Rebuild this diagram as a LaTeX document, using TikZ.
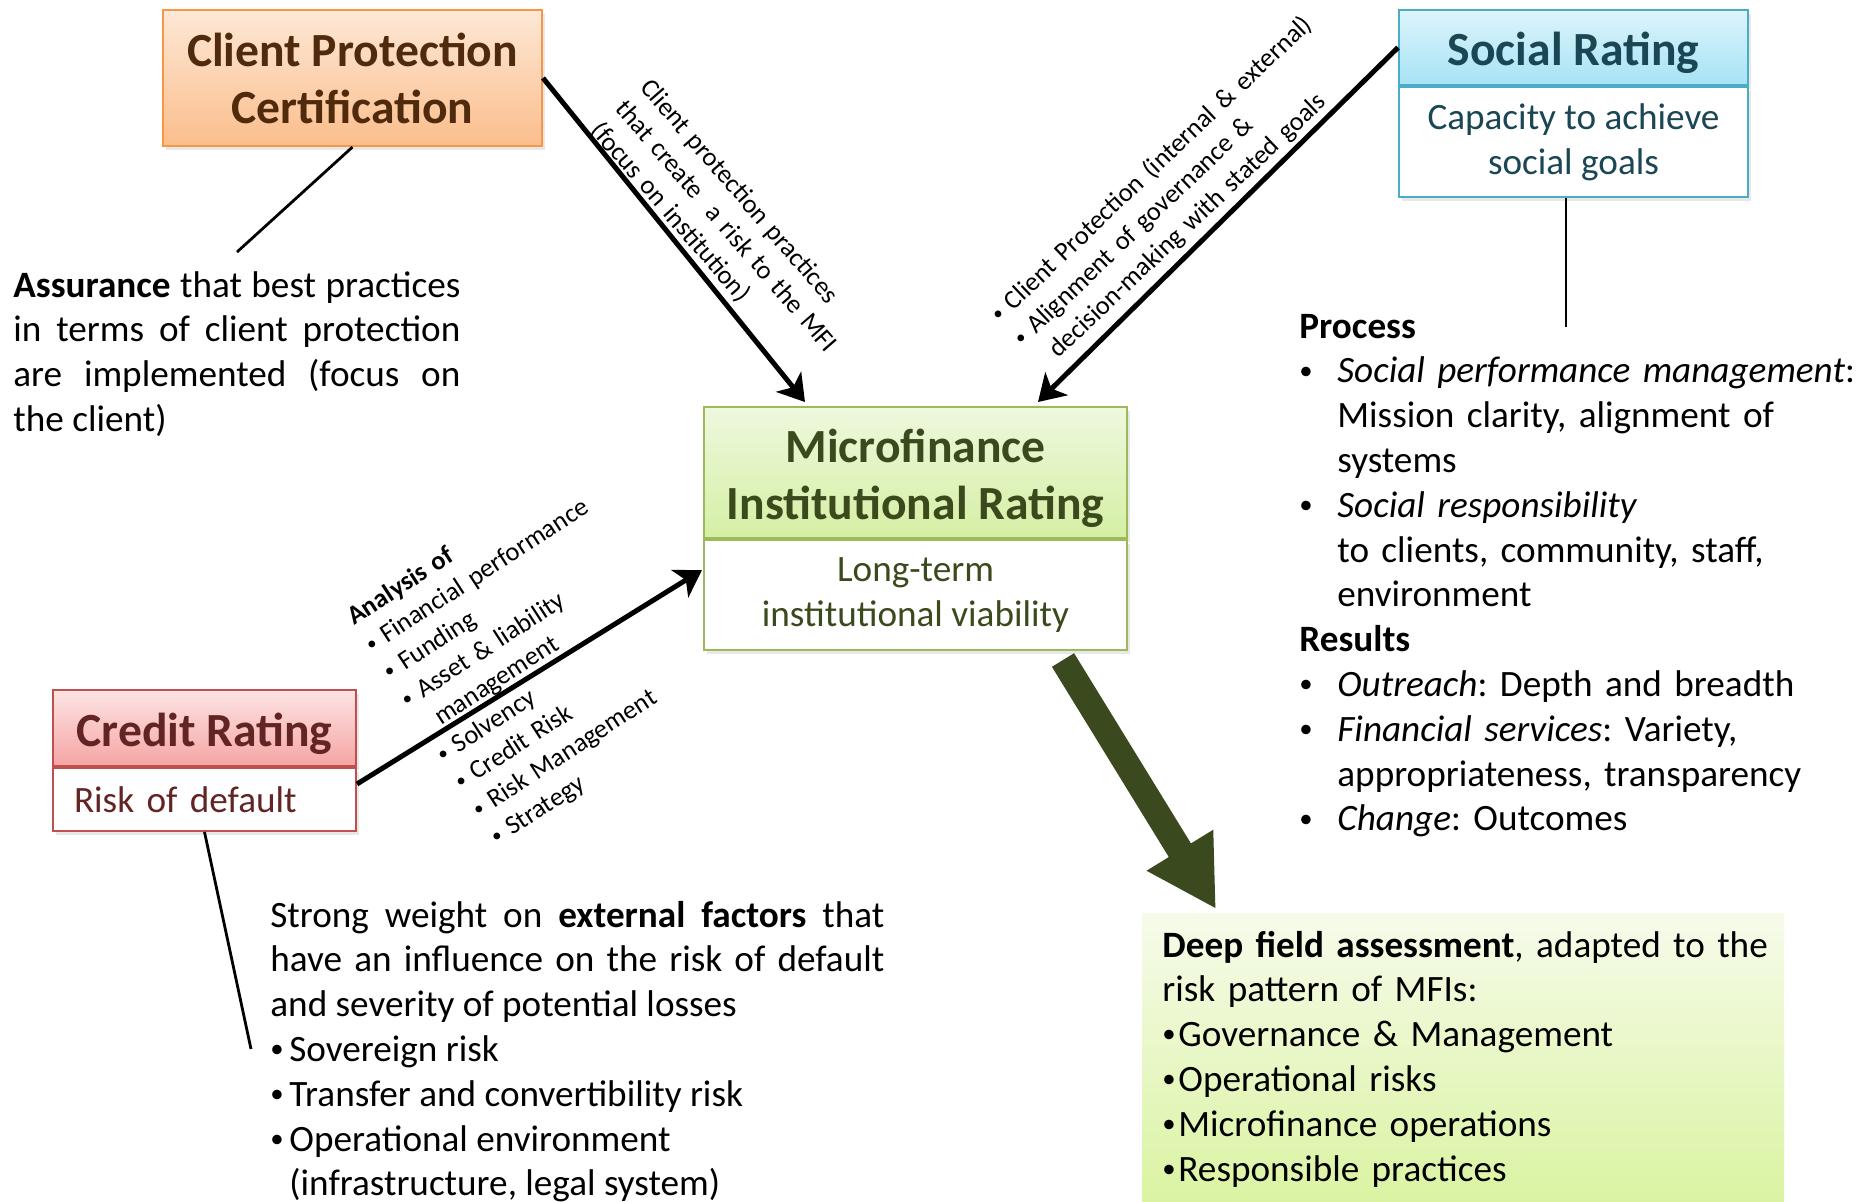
\documentclass[tikz,border=0pt]{standalone}
\usepackage{fontspec}
\usepackage{graphicx}
\setmainfont{Carlito}
\usetikzlibrary{arrows.meta,positioning,calc,shadows}

\definecolor{cpcedge}{HTML}{F79646}
\definecolor{cpctop}{HTML}{FDE8D6}
\definecolor{cpcbot}{HTML}{FBBE8C}
\definecolor{cpctext}{HTML}{4F2A0C}
\definecolor{sredge}{HTML}{4BACC6}
\definecolor{srtop}{HTML}{DDF4FB}
\definecolor{srbot}{HTML}{A6E3F5}
\definecolor{srtext}{HTML}{1B4654}
\definecolor{miredge}{HTML}{9BBB59}
\definecolor{mirtop}{HTML}{EEF8DE}
\definecolor{mirbot}{HTML}{D5EFA4}
\definecolor{mirtext}{HTML}{3B4A1C}
\definecolor{credge}{HTML}{C0504D}
\definecolor{crtop}{HTML}{FDE4E4}
\definecolor{crbot}{HTML}{F5A5A4}
\definecolor{crtext}{HTML}{632523}
\definecolor{deeptop}{HTML}{F6FBEA}
\definecolor{deepbot}{HTML}{D9F39F}
\definecolor{bigolive}{HTML}{3A4A1E}

\frenchspacing
\newcommand\bodysize{\fontsize{18.6}{22.4}\selectfont}
\newcommand\titlesize{\fontsize{23.8}{28.5}\selectfont}
\newcommand\notesize{\fontsize{13.2}{16.4}\selectfont}
\newcommand\dotmark{\raisebox{0.1em}{\scalebox{0.72}{\textbullet}}}
\newcommand\bul[1][19pt]{\makebox[#1][l]{\dotmark}}
\newcommand\sink[1]{\raisebox{-2.7pt}[\height][\depth]{#1}}

\begin{document}
\begin{tikzpicture}[x=0.5pt,y=-0.5pt,>={Stealth[length=13pt,width=16pt,inset=3.5pt]}]
    \tikzstyle{box}=[draw,line width=1pt,inner sep=0pt,drop shadow={opacity=0.18,shadow xshift=1.5pt,shadow yshift=-2pt}]
    \tikzstyle{head}=[box,font=\titlesize\bfseries,align=center]
    \tikzstyle{body}=[box,fill=white,font=\bodysize,align=center]
    \tikzstyle{note}=[inner sep=0pt,font=\bodysize,anchor=base west]
    \tikzstyle{tag}=[inner sep=0pt,font=\notesize,align=left,anchor=base west]
    \tikzstyle{link}=[line width=1.4pt]
    \tikzstyle{feed}=[->,line width=2.5pt]
    \useasboundingbox (0,0) rectangle (1859,1201);
    \fill[white] (0,0) rectangle (1859,1201);

    % rating boxes
    \node[head,top color=cpctop,bottom color=cpcbot,draw=cpcedge,text=cpctext,minimum width=189.5pt,minimum height=68pt] (cpc) at (352.5,78) {Client Protection\\Certification};
    \node[head,top color=srtop,bottom color=srbot,draw=sredge,text=srtext,minimum width=174.5pt,minimum height=37.5pt] (srhead) at (1573.5,47.5) {\sink{Social Rating}};
    \node[body,draw=sredge,text=srtext,minimum width=174.5pt,minimum height=55pt] (srbody) [below=0pt of srhead] {Capacity to achieve\\social goals};
    \node[head,top color=mirtop,bottom color=mirbot,draw=miredge,text=mirtext,minimum width=211.5pt,minimum height=65.5pt] (mirhead) at (915.5,472.5) {\sink{Microfinance}\\\sink{Institutional Rating}};
    \node[body,draw=miredge,text=mirtext,minimum width=211.5pt,minimum height=55pt] (mirbody) [below=0pt of mirhead] {Long-term\\institutional viability};
    \node[head,top color=crtop,bottom color=crbot,draw=credge,text=crtext,minimum width=151.5pt,minimum height=38pt] (crhead) at (204.5,728) {\sink{Credit Rating}};
    \node[body,draw=credge,text=crtext,minimum height=31.5pt,align=left,text width=130.5pt,inner xsep=10.5pt] (crbody) [below=0pt of crhead] {Risk of default};
    \node[inner sep=0pt,top color=deeptop,bottom color=deepbot,minimum width=321pt,minimum height=151pt,drop shadow={opacity=0.15,shadow xshift=0pt,shadow yshift=-1.5pt}] (deep) at (1463,1064) {};

    % texts beside the boxes
    \node[note,text width=223.5pt,align=justify] (asr) at (13,297) {\textbf{Assurance} that best practices\linebreak in terms of client protection\linebreak are implemented (focus on\linebreak the client)};
    \node[note,text width=307pt,align=justify] (crnote) at (270,927) {Strong weight on \textbf{external factors} that\linebreak have an influence on the risk of default\linebreak and severity of potential losses\par
        \bul[9.5pt]Sovereign risk\par
        \bul[9.5pt]Transfer and convertibility risk\par
        \bul[9.5pt]Operational environment\newline\hspace*{9.5pt}(infrastructure, legal system)};
    \node[note,text width=290pt,align=left] (proc) at (1299,338) {\textbf{Process}\\
        \bul\textit{Social performance management}:\\
        \hspace*{19pt}Mission clarity, alignment of\\
        \hspace*{19pt}systems\\
        \bul\textit{Social responsibility}\\
        \hspace*{19pt}to clients, community, staff,\\
        \hspace*{19pt}environment\\
        \textbf{Results}\\
        \bul\textit{Outreach}: Depth and breadth\\
        \bul\textit{Financial services}: Variety,\\
        \hspace*{19pt}appropriateness, transparency\\
        \bul\textit{Change}: Outcomes};
    \node[note,text width=305pt,align=left] (deeptext) at (1162,957) {\textbf{Deep field assessment}, adapted to the\\
        risk pattern of MFIs:\\
        \bul[8pt]Governance \& Management\\
        \bul[8pt]Operational risks\\
        \bul[8pt]Microfinance operations\\
        \bul[8pt]Responsible practices};

    % labels along the arrows
    \node[tag,rotate=-49,text width=200pt] (cpctag) at (639,88) {Client protection practices\\that create\ \ a risk to the MFI\\(focus on institution)};
    \node[tag,rotate=43.5,text width=260pt] (srtag) at (1000,324) {\dotmark\ Client Protection (internal \& external)\\\dotmark\ Alignment of governance \&\\\phantom{\dotmark\ }decision-making with stated goals};
    \node[tag,rotate=33,text width=170pt] (crtag) at (354,626) {\textbf{Analysis of}\\
        \dotmark\ Financial performance\\
        \dotmark\ Funding\\
        \dotmark\ Asset \& liability\\
        \phantom{\dotmark\ }management\\
        \dotmark\ Solvency\\
        \dotmark\ Credit Risk\\
        \dotmark\ Risk Management\\
        \dotmark\ Strategy};

    % connectors
    \coordinate (asrtop) at (237,252);
    \coordinate (proctop) at (1566,327);
    \coordinate (crfoot) at (251,1049);
    \coordinate (cpcin) at (805,402);
    \coordinate (srin) at (1038,402);
    \coordinate (bigtail) at (1063,660);
    \coordinate (bigtip) at (1216,909);
    \draw[link] (cpc.south) -- (asrtop);
    \draw[link] (srbody.south -| proctop) -- (proctop);
    \draw[link] (crbody.south) -- (crfoot);
    \draw[feed] (cpc.east) -- (cpcin);
    \draw[feed] (srhead.west) -- (srin);
    \draw[feed] ($(crbody.east)+(0,-15.5)$) -- ($(mirbody.west)+(-1,-25)$);
    \draw[line width=13pt,bigolive,-{Triangle[length=34.5pt,width=36.5pt]}] (bigtail) -- (bigtip);
\end{tikzpicture}
\end{document}
